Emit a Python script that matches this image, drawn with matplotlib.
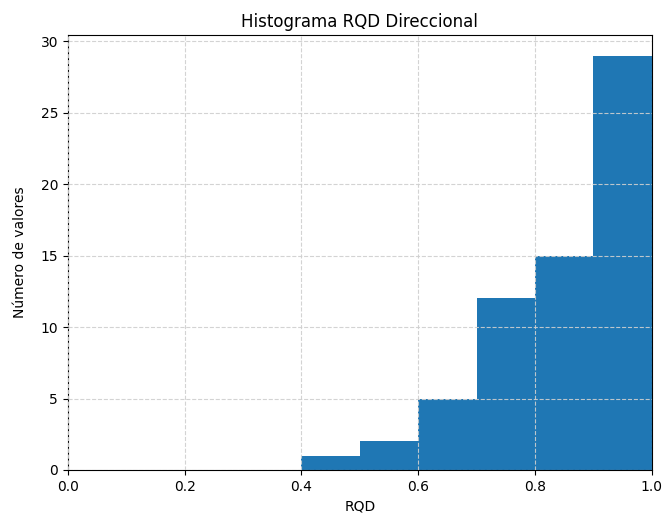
import numpy as np
import matplotlib
matplotlib.use("Agg")
import matplotlib.pyplot as plt

# Bin edges and counts
bin_edges = [0.4, 0.5, 0.6, 0.7, 0.8, 0.9, 1.0]
counts = [1, 2, 5, 12, 15, 29]

centers = [(a + b) / 2 for a, b in zip(bin_edges[:-1], bin_edges[1:])]

fig = plt.figure(figsize=(6.65, 5.21), dpi=100)
ax = fig.add_axes([0.102, 0.098, 0.878, 0.835])

ax.hist(centers, bins=bin_edges, weights=counts, color="#1f77b4")
ax.set_xlim(0, 1)
ax.grid(True, linestyle="--", color="#cfcfcf", alpha=0.9)
ax.set_axisbelow(False)

ax.set_title("Histograma RQD Direccional")
ax.set_xlabel("RQD")
ax.set_ylabel("Número de valores", labelpad=10)

fig.savefig("out.png", dpi=100)
